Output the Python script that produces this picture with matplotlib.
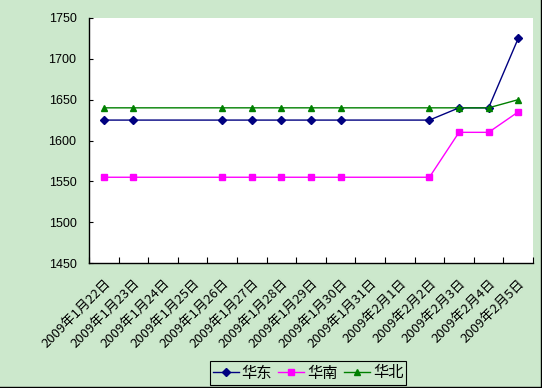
import matplotlib
matplotlib.use("Agg")
import matplotlib.pyplot as plt
import matplotlib.dates as mdates
import matplotlib.transforms as mtransforms
from matplotlib.lines import Line2D
from datetime import datetime, timedelta

plt.rcParams['font.family'] = ['Noto Sans CJK SC', 'DejaVu Sans']

# trading days with quotes
dates = ["2009-01-22", "2009-01-23", "2009-01-26", "2009-01-27", "2009-01-28",
         "2009-01-29", "2009-01-30", "2009-02-02", "2009-02-03", "2009-02-04",
         "2009-02-05"]
east = [1625, 1625, 1625, 1625, 1625, 1625, 1625, 1625, 1640, 1640, 1725]
south = [1555, 1555, 1555, 1555, 1555, 1555, 1555, 1555, 1610, 1610, 1635]
north = [1640, 1640, 1640, 1640, 1640, 1640, 1640, 1640, 1640, 1640, 1650]
series_names = ["华东", "华南", "华北"]

bg = "#cce8cc"

days = [datetime.strptime(d, "%Y-%m-%d") for d in dates]
# points sit in the middle of each day's slot
x = [mdates.date2num(d) + 0.5 for d in days]

first = datetime(2009, 1, 22)
all_days = [first + timedelta(days=i) for i in range(15)]
edges = [mdates.date2num(first + timedelta(days=i)) for i in range(16)]
centers = [mdates.date2num(d) + 0.5 for d in all_days]
labels = [f"{d.year}年{d.month}月{d.day}日" for d in all_days]

fig = plt.figure(figsize=(5.42, 3.88), dpi=100, facecolor=bg)
ax = fig.add_axes([89 / 542, 1 - 263 / 388, 444 / 542, 245 / 388])
ax.set_facecolor("white")

ax.plot(x, east, color="#000080", marker="D", markersize=4, lw=1, label=series_names[0])
ax.plot(x, south, color="#ff00ff", marker="s", markersize=4.5, lw=1, label=series_names[1])
ax.plot(x, north, color="#008000", marker="^", markersize=5, lw=1, label=series_names[2])

ax.set_xlim(edges[0], edges[-1])
ax.set_ylim(1450, 1750)
ax.set_yticks(range(1450, 1751, 50))

ax.set_xticks(edges)
ax.set_xticklabels([])
ax.set_xticks(centers, minor=True)
ax.set_xticklabels(labels, minor=True, rotation=45, ha="right",
                   rotation_mode="anchor", fontsize=9.5)
shift = mtransforms.ScaledTranslation(-17 / 100, -8 / 100, fig.dpi_scale_trans)
for lab in ax.get_xticklabels(minor=True):
    lab.set_transform(lab.get_transform() + shift)
ax.tick_params(axis="x", which="major", direction="in", length=4, width=0.8)
ax.tick_params(axis="x", which="minor", length=0, pad=10)
ax.tick_params(axis="y", direction="in", length=3, width=0.8, pad=9, labelsize=9)
for lab in ax.get_yticklabels():
    lab.set_family(["Liberation Sans", "DejaVu Sans"])

ax.spines["top"].set_visible(False)
ax.spines["right"].set_visible(False)
ax.spines["left"].set_linewidth(1)
ax.spines["bottom"].set_linewidth(1)

leg = fig.legend(loc="center", bbox_to_anchor=(308 / 542, 1 - 373 / 388), ncol=3,
                 fontsize=11, frameon=True, fancybox=False, edgecolor="black",
                 facecolor=bg, framealpha=1, handlelength=1.7, handletextpad=0.2,
                 columnspacing=0.4, borderpad=0.2, borderaxespad=0)
leg.get_frame().set_linewidth(0.8)

# outer border on right and bottom
fig.add_artist(Line2D([540.5 / 542, 540.5 / 542], [0, 1], color="black", lw=1))
fig.add_artist(Line2D([0, 1], [1 / 388, 1 / 388], color="black", lw=1))

fig.savefig("out.png", dpi=100, facecolor=bg)
